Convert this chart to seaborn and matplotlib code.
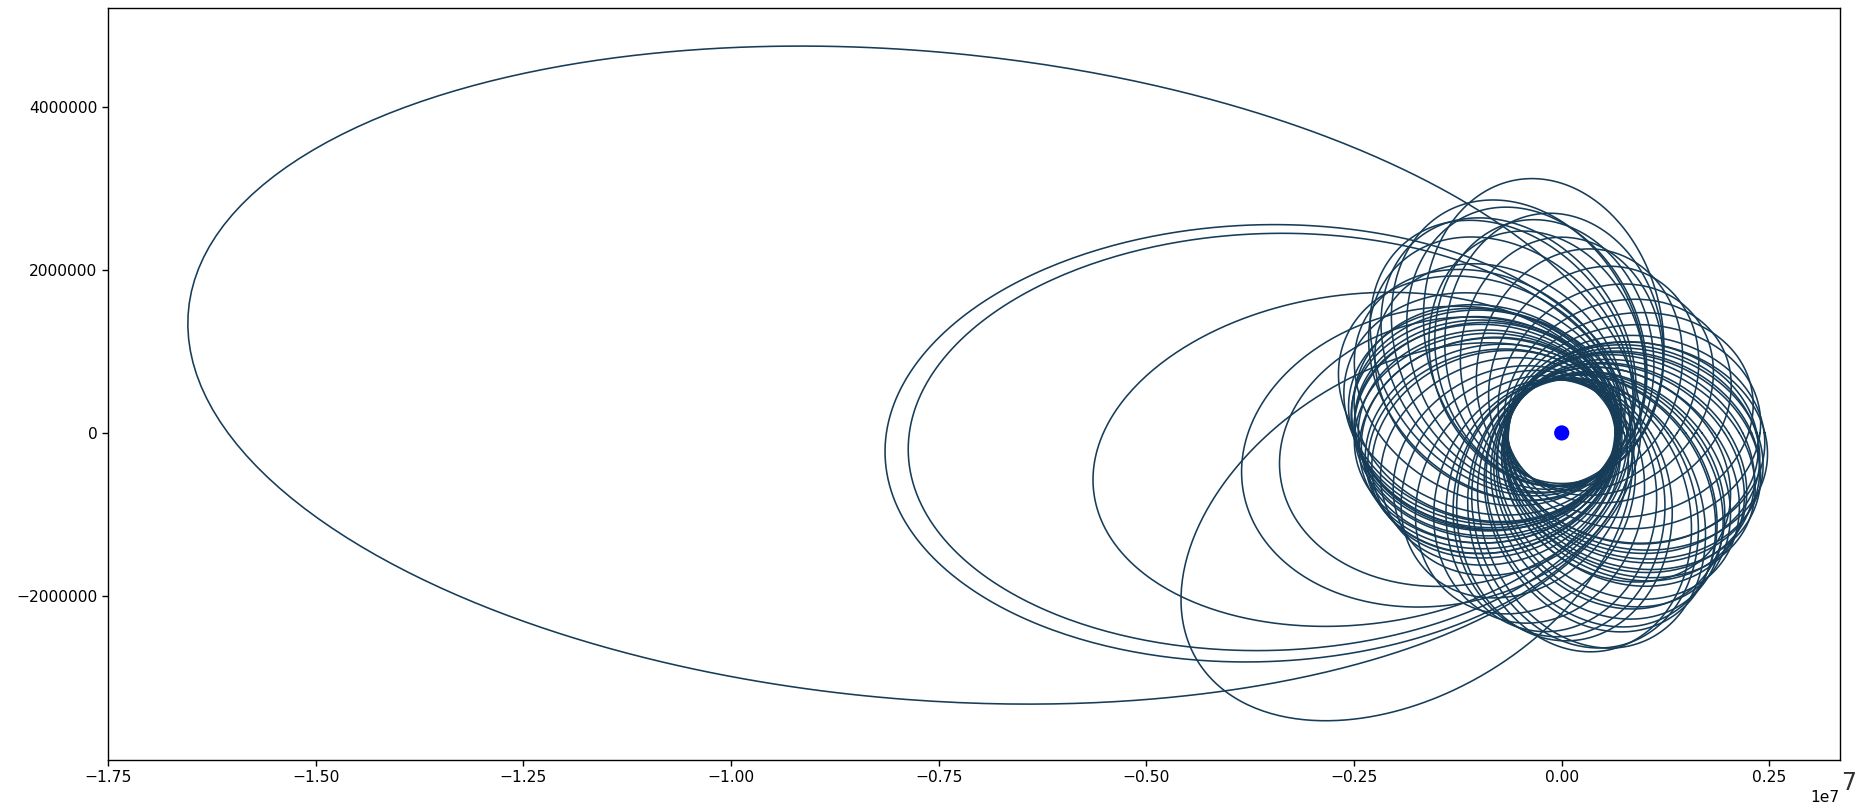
import numpy as np
import pandas as pd
import matplotlib
matplotlib.use("Agg")
import matplotlib.pyplot as plt
import seaborn as sns

# One entry per revolution of the spacecraft around the central body:
# apoapsis distance (m), periapsis distance (m), direction of apoapsis (deg from +x)
apoapsis_m = [
    16.60e6, 8.15e6, 7.87e6, 5.68e6, 5.20e6, 3.90e6, 3.43e6,
    3.15e6, 3.05e6, 2.95e6, 2.70e6, 2.55e6, 2.85e6, 2.40e6, 2.60e6, 2.75e6,
    2.85e6, 2.70e6, 2.90e6, 2.65e6, 3.00e6,
    2.60e6, 2.55e6, 2.50e6, 2.45e6, 2.50e6, 2.45e6, 2.40e6, 2.35e6, 2.50e6,
    2.55e6, 2.50e6, 2.42e6, 2.55e6, 2.38e6,
    2.30e6, 2.25e6, 2.35e6, 2.40e6,
    2.40e6, 2.45e6, 2.55e6, 2.72e6, 2.74e6, 2.62e6, 2.70e6, 2.50e6,
    2.55e6, 2.50e6, 2.50e6, 2.45e6, 2.50e6, 2.50e6, 2.48e6, 2.50e6, 2.45e6,
    2.40e6, 2.35e6, 2.30e6, 2.45e6, 2.42e6,
    2.58e6, 2.47e6, 2.44e6, 2.46e6, 2.38e6,
    2.20e6, 2.15e6, 2.20e6, 2.30e6,
]
periapsis_m = [
    0.95e6, 0.88e6, 0.83e6, 0.72e6, 0.75e6, 0.85e6, 0.78e6,
    0.65e6, 0.68e6, 0.66e6, 0.64e6, 0.63e6, 0.70e6, 0.62e6, 0.66e6, 0.65e6,
    0.68e6, 0.70e6, 0.66e6, 0.64e6, 0.67e6,
    0.66e6, 0.65e6, 0.64e6, 0.65e6, 0.66e6, 0.68e6, 0.67e6, 0.66e6, 0.70e6,
    0.70e6, 0.66e6, 0.65e6, 0.67e6, 0.64e6,
    0.65e6, 0.64e6, 0.66e6, 0.65e6,
    0.64e6, 0.65e6, 0.66e6, 0.65e6, 0.64e6, 0.66e6, 0.66e6, 0.65e6,
    0.65e6, 0.64e6, 0.66e6, 0.65e6, 0.64e6, 0.66e6, 0.65e6, 0.64e6, 0.66e6,
    0.65e6, 0.65e6, 0.64e6, 0.67e6, 0.66e6,
    0.66e6, 0.65e6, 0.64e6, 0.65e6, 0.64e6,
    0.64e6, 0.65e6, 0.66e6, 0.65e6,
]
apoapsis_dir_deg = [
    174.8, 182.0, 181.8, 187.5, 213.0, 191.0, 190.0,
    100.0, 116.0, 124.0, 95.0, 108.0, 133.0, 90.0, 140.0, 148.0,
    155.0, 162.0, 112.0, 102.0, 128.0,
    168.0, 172.0, 176.0, 180.0, 184.0, 188.0, 193.0, 198.0, 178.0,
    170.0, 174.0, 186.0, 165.0, 195.0,
    205.0, 215.0, 228.0, 240.0,
    252.0, 262.0, 272.0, 282.0, 290.0, 298.0, 286.0, 268.0,
    305.0, 312.0, 318.0, 325.0, 332.0, 338.0, 344.0, 350.0, 355.0,
    5.0, 15.0, 322.0, 335.0, 347.0,
    300.0, 309.0, 328.0, 341.0, 352.0,
    30.0, 45.0, 60.0, 75.0,
]

# Central body
body_x = [0.0]
body_y = [0.0]

# Trace each Keplerian ellipse with the central body at the focus
theta = np.linspace(0.0, 2.0 * np.pi, 721)
frames = []
for k, (ra, rp, w) in enumerate(zip(apoapsis_m, periapsis_m, apoapsis_dir_deg)):
    a = 0.5 * (ra + rp)
    e = (ra - rp) / (ra + rp)
    peri = np.deg2rad(w) + np.pi
    r = a * (1.0 - e ** 2) / (1.0 + e * np.cos(theta - peri))
    frames.append(pd.DataFrame({
        "x": r * np.cos(theta),
        "y": r * np.sin(theta),
        "orbit": k,
    }))
orbits = pd.concat(frames, ignore_index=True)

sns.set_style("ticks", {"axes.edgecolor": "black", "xtick.color": "black",
                        "ytick.color": "black", "text.color": "black"})
plt.rcParams["font.family"] = ["DejaVu Sans"]
plt.rcParams["axes.linewidth"] = 1.0

fig = plt.figure(figsize=(18.58, 8.08), dpi=100)
ax = fig.add_axes([108 / 1858, 48 / 808, 1732 / 1858, 752 / 808])

sns.lineplot(data=orbits, x="x", y="y", units="orbit", estimator=None,
             sort=False, color="#163c58", linewidth=1.15, legend=False, ax=ax)
sns.scatterplot(x=body_x, y=body_y, color="blue", s=120, edgecolor="none",
                ax=ax, zorder=5)

ax.set_xlim(-1.75e7, 0.335e7)
ax.set_ylim(-4.01e6, 5.21e6)
ax.set_xticks(np.arange(-1.75e7, 0.26e7, 0.25e7))
ax.set_yticks([-2e6, 0, 2e6, 4e6])
ax.ticklabel_format(axis="y", style="plain")
ax.tick_params(labelsize=11.2, length=4, width=1)
ax.xaxis.get_offset_text().set_fontsize(11.2)
ax.set_xlabel("")
ax.set_ylabel("")

fig.text(1849 / 1858, 1 - 783 / 808, "7", fontsize=17, ha="center",
         va="center", color="#333333")

fig.savefig("out.png", dpi=100)
